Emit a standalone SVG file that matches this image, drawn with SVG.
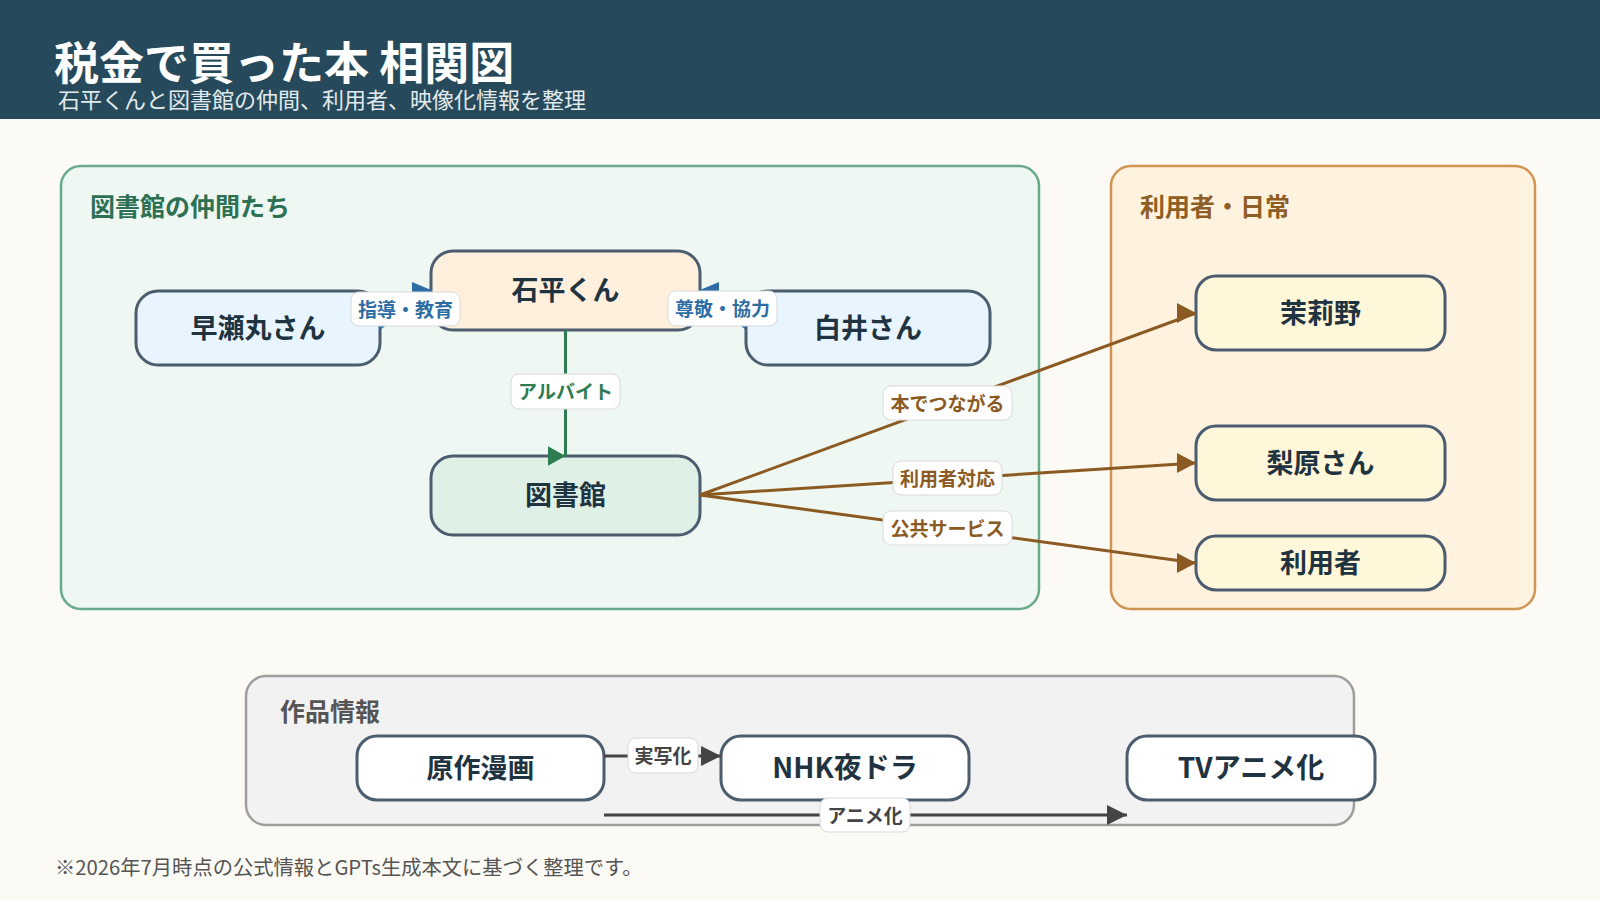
<svg xmlns="http://www.w3.org/2000/svg" width="1600" height="900" viewBox="0 0 1600 900">
  <style>
    text { font-family: "Noto Sans CJK JP", "Noto Sans", sans-serif; }
    .title { font-size: 45px; font-weight: 700; fill: #ffffff; }
    .subtitle { font-size: 22px; fill: #e2eaed; }
    .grp { font-size: 25px; font-weight: 700; }
    .node rect { stroke: #4b5d6f; stroke-width: 3; }
    .node text { font-size: 27px; font-weight: 700; fill: #1f3340; text-anchor: middle; dominant-baseline: central; }
    .lbl rect { fill: #ffffff; stroke: #d9d9d9; stroke-width: 1; }
    .lbl text { font-size: 19px; font-weight: 700; text-anchor: middle; dominant-baseline: central; }
    .edge { fill: none; stroke-width: 3; }
    .foot { font-size: 20.3px; fill: #555555; }
  </style>
  <defs>
    <marker id="arBlueR" markerUnits="userSpaceOnUse" markerWidth="19" markerHeight="20" refX="19" refY="8" orient="0">
      <path d="M0,0 L19,8 L0,16 z" fill="#2e6da4"/>
    </marker>
    <marker id="arBlueL" markerUnits="userSpaceOnUse" markerWidth="19" markerHeight="20" refX="19" refY="8" orient="180">
      <path d="M0,0 L19,8 L0,16 z" fill="#2e6da4"/>
    </marker>
    <marker id="arGreen" markerUnits="userSpaceOnUse" markerWidth="19" markerHeight="20" refX="18" refY="10" orient="0">
      <path d="M0,0 L18,10 L0,20 z" fill="#2e7d52"/>
    </marker>
    <marker id="arBrown" markerUnits="userSpaceOnUse" markerWidth="20" markerHeight="20" refX="19" refY="10" orient="0">
      <path d="M0,0 L19,10 L0,20 z" fill="#8b5a22"/>
    </marker>
    <marker id="arGray" markerUnits="userSpaceOnUse" markerWidth="21" markerHeight="20" refX="20" refY="10" orient="0">
      <path d="M0,0 L20,10 L0,20 z" fill="#444444"/>
    </marker>
  </defs>

  <rect x="0" y="0" width="1600" height="900" fill="#fbfaf4"/>
  <rect x="0" y="0" width="1600" height="119" fill="#264a5b"/>
  <text class="title" x="54" y="60" dominant-baseline="central">税金で買った本 相関図</text>
  <text class="subtitle" x="58" y="98" dominant-baseline="central">石平くんと図書館の仲間、利用者、映像化情報を整理</text>

  <g id="panels">
    <rect x="61" y="166" width="978" height="443" rx="20" fill="#eef7f2" stroke="#6aaa8c" stroke-width="2.5"/>
    <text class="grp" x="90" y="205" dominant-baseline="central" fill="#2d7054">図書館の仲間たち</text>
    <rect x="1111" y="166" width="424" height="443" rx="20" fill="#fff3e0" stroke="#d09552" stroke-width="2.5"/>
    <text class="grp" x="1140" y="205" dominant-baseline="central" fill="#8f5e24">利用者・日常</text>
    <rect x="246" y="676" width="1108" height="149" rx="20" fill="#f2f2f2" stroke="#9e9e9e" stroke-width="2.5"/>
    <text class="grp" x="280" y="710" dominant-baseline="central" fill="#555555">作品情報</text>
  </g>

  <g id="node-ishihira" class="node">
    <rect x="431" y="251" width="269" height="79" rx="22" fill="#ffefdd"/>
    <text x="565.5" y="288.5">石平くん</text>
  </g>
  <g id="node-hayasemaru" class="node">
    <rect x="136" y="291" width="244" height="74" rx="22" fill="#e8f5fe"/>
    <text x="258" y="326">早瀬丸さん</text>
  </g>
  <g id="node-shirai" class="node">
    <rect x="746" y="291" width="244" height="74" rx="22" fill="#e8f5fe"/>
    <text x="868" y="326">白井さん</text>
  </g>
  <g id="node-library" class="node">
    <rect x="431" y="456" width="269" height="79" rx="22" fill="#dff1e7"/>
    <text x="565.5" y="493.5">図書館</text>
  </g>
  <g id="node-marino" class="node">
    <rect x="1196" y="276" width="249" height="74" rx="20" fill="#fff7d9"/>
    <text x="1320.5" y="311">茉莉野</text>
  </g>
  <g id="node-nashihara" class="node">
    <rect x="1196" y="426" width="249" height="74" rx="20" fill="#fff7d9"/>
    <text x="1320.5" y="461">梨原さん</text>
  </g>
  <g id="node-users" class="node">
    <rect x="1196" y="536" width="249" height="54" rx="20" fill="#fff7d9"/>
    <text x="1320.5" y="561">利用者</text>
  </g>
  <g id="node-manga" class="node">
    <rect x="357" y="736" width="247" height="64" rx="20" fill="#ffffff"/>
    <text x="480.5" y="766">原作漫画</text>
  </g>
  <g id="node-drama" class="node">
    <rect x="721" y="736" width="248" height="64" rx="20" fill="#ffffff"/>
    <text x="845" y="766" style="font-size:28px">NHK夜ドラ</text>
  </g>
  <g id="node-anime" class="node">
    <rect x="1127" y="736" width="248" height="64" rx="20" fill="#ffffff"/>
    <text x="1251" y="766" style="font-size:28px">TVアニメ化</text>
  </g>

  <g id="connectors">
    <path class="edge" d="M380,328 L431,290" stroke="#2e6da4" marker-end="url(#arBlueR)"/>
    <path class="edge" d="M746,328 L700,290" stroke="#2e6da4" marker-end="url(#arBlueL)"/>
    <path class="edge" d="M565.5,330 L565.5,456" stroke="#2e7d52" stroke-width="3.5" marker-end="url(#arGreen)"/>
    <path class="edge" d="M700,495 L1196,313" stroke="#8b5a22" marker-end="url(#arBrown)"/>
    <path class="edge" d="M700,495 L1196,463" stroke="#8b5a22" marker-end="url(#arBrown)"/>
    <path class="edge" d="M700,495 L1196,563" stroke="#8b5a22" marker-end="url(#arBrown)"/>
    <path class="edge" d="M604,756 L721,756" stroke="#444444" stroke-width="4" marker-end="url(#arGray)"/>
    <path class="edge" d="M604,815 L1127,815" stroke="#444444" stroke-width="4" marker-end="url(#arGray)"/>

    <g class="lbl">
      <rect x="351" y="292" width="109" height="34" rx="8"/>
      <text x="405.5" y="308" fill="#2e6da4">指導・教育</text>
    </g>
    <g class="lbl">
      <rect x="668" y="291" width="109" height="35" rx="8"/>
      <text x="722.5" y="307.5" fill="#2e6da4">尊敬・協力</text>
    </g>
    <g class="lbl">
      <rect x="511" y="374" width="109" height="35" rx="8"/>
      <text x="565.5" y="390.5" fill="#2e7d52">アルバイト</text>
    </g>
    <g class="lbl">
      <rect x="883" y="386" width="129" height="34" rx="8"/>
      <text x="947.5" y="402" fill="#8b5a22">本でつながる</text>
    </g>
    <g class="lbl">
      <rect x="893" y="461" width="109" height="34" rx="8"/>
      <text x="947.5" y="477" fill="#8b5a22">利用者対応</text>
    </g>
    <g class="lbl">
      <rect x="883" y="511" width="129" height="34" rx="8"/>
      <text x="947.5" y="527" fill="#8b5a22">公共サービス</text>
    </g>
    <g class="lbl">
      <rect x="628" y="738" width="70" height="35" rx="8"/>
      <text x="663" y="754.5" fill="#444444">実写化</text>
    </g>
    <g class="lbl">
      <rect x="820" y="798" width="90" height="34" rx="8"/>
      <text x="865" y="814" fill="#444444">アニメ化</text>
    </g>
  </g>

  <text class="foot" x="55" y="866" dominant-baseline="central">※2026年7月時点の公式情報とGPTs生成本文に基づく整理です。</text>
</svg>
